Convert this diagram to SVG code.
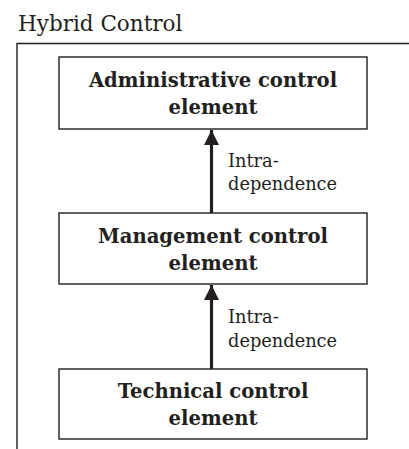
<svg xmlns="http://www.w3.org/2000/svg" width="409" height="449" viewBox="0 0 409 449">
<defs>
<style>
.frame{fill:none;stroke:#231f20;stroke-width:1.4}
.box{fill:#fff;stroke:#231f20;stroke-width:1.4}
.title{font-family:"DejaVu Serif","Liberation Serif",serif;font-size:21.5px;fill:#231f20}
.lbl{font-family:"DejaVu Serif","Liberation Serif",serif;font-size:19.6px;font-weight:bold;fill:#231f20;text-anchor:middle}
.note{font-family:"DejaVu Serif","Liberation Serif",serif;font-size:17.8px;fill:#231f20}
.conn{stroke:#231f20;stroke-width:3.2;fill:none}
</style>
<marker id="ah" viewBox="0 0 10 10" refX="10" refY="5" markerUnits="userSpaceOnUse" markerWidth="16" markerHeight="15" orient="auto">
<path d="M0,0 L10,5 L0,10 z" fill="#231f20"/>
</marker>
</defs>
<text class="title" x="18" y="31">Hybrid Control</text>
<path class="frame" d="M409,43.5 H17 V449"/>
<g id="admin">
<rect class="box" x="59" y="57" width="308" height="72"/>
<text class="lbl" x="213" y="87">Administrative control</text>
<text class="lbl" x="213" y="114">element</text>
</g>
<g id="management">
<rect class="box" x="59" y="213" width="308" height="71"/>
<text class="lbl" x="213" y="243">Management control</text>
<text class="lbl" x="213" y="270">element</text>
</g>
<g id="technical">
<rect class="box" x="59" y="369" width="308" height="70"/>
<text class="lbl" x="213" y="398">Technical control</text>
<text class="lbl" x="213" y="425">element</text>
</g>
<g id="connectors">
<line class="conn" x1="211.5" y1="213" x2="211.5" y2="130" marker-end="url(#ah)"/>
<line class="conn" x1="211.5" y1="369" x2="211.5" y2="285" marker-end="url(#ah)"/>
<text class="note" x="228" y="167">Intra-</text>
<text class="note" x="228" y="190">dependence</text>
<text class="note" x="228" y="323">Intra-</text>
<text class="note" x="228" y="347">dependence</text>
</g>
</svg>
